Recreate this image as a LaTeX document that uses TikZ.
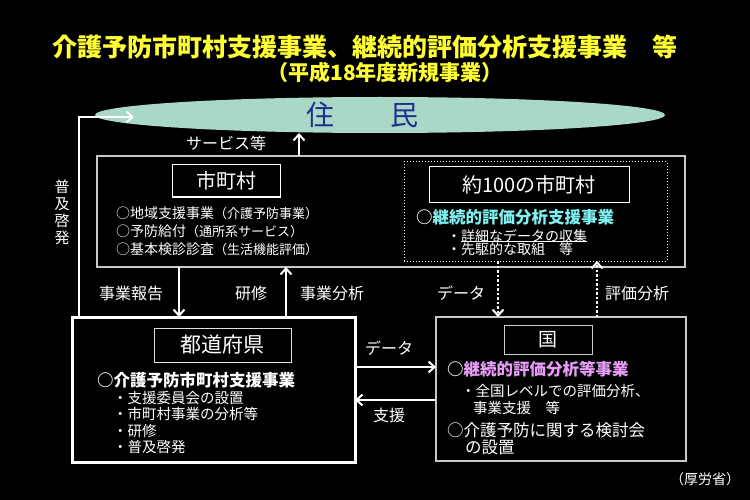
\documentclass[tikz,border=0pt]{standalone}
\usepackage{fontspec}
\setmainfont{Noto Sans CJK JP}
\usetikzlibrary{arrows.meta,shapes.geometric}
\definecolor{ttl}{HTML}{FFFF33}
\definecolor{mint}{HTML}{A9D9C6}
\definecolor{navy}{HTML}{1F2F8F}
\definecolor{cyantx}{HTML}{80F0F0}
\definecolor{pinktx}{HTML}{E89CF8}
\definecolor{gline}{HTML}{C8C8C8}
\newcommand{\fsz}[1]{\fontsize{#1}{#1}\selectfont}
\begin{document}
\begin{tikzpicture}[x=1pt,y=-1pt,
 txt/.style={text=white, inner sep=0pt, anchor=west},
 lbl/.style={text=white, inner sep=0pt, font=\fsz{16}},
 frame/.style={inner sep=0pt, outer sep=0pt, anchor=north west},
 titlebox/.style={draw=white!88!black, line width=1pt, text=white, inner sep=0pt, outer sep=0pt, anchor=north west},
 arr/.style={draw=white, line width=2pt, -{Straight Barb[length=6pt,width=11pt,line width=2pt]}},
 darr/.style={arr, line width=2.5pt, dash pattern=on 2.5pt off 2pt}
]
\useasboundingbox (0,0) rectangle (750,500);
\fill[black] (0,0) rectangle (750,500);

% titles
\node[text=ttl, inner sep=0pt, font=\bfseries\fsz{25}] (title) at (365,47) {介護予防市町村支援事業、継続的評価分析支援事業　等};
\node[text=ttl, inner sep=0pt, font=\bfseries\fsz{21}] (sub) at (385,73) {（平成18年度新規事業）};

% residents
\node[ellipse, fill=mint, minimum width=570, minimum height=36, inner sep=0pt, outer sep=0pt] (res) at (380,115) {};
\node[text=navy, inner sep=0pt, font=\fsz{28}] (restx) at (362,115) {住　　民};

% municipality outer box
\node[frame, draw=gline, line width=2pt, minimum width=588, minimum height=111] (muni) at (97,156) {};
\node[titlebox, draw=white, minimum width=108, minimum height=32, font=\fsz{20}] (mt) at (172,165) {市町村};
\node[txt, font=\fsz{14}] (m1) at (116,213) {○地域支援事業{\fsz{13}（介護予防事業）}};
\node[txt, font=\fsz{14}] (m2) at (116,231) {○予防給付{\fsz{13}（通所系サービス）}};
\node[txt, font=\fsz{14}] (m3) at (116,249) {○基本検診診査{\fsz{13}（生活機能評価）}};

% about 100 municipalities
\node[frame, draw=white, dotted, line width=1pt, minimum width=263, minimum height=99] (hund) at (404,162) {};
\node[titlebox, draw=white, minimum width=200, minimum height=35, font=\fsz{20}] (ht) at (429,167) {約100の市町村};
\node[txt, font=\bfseries\fsz{16.5}] (h1) at (416,217) {○\textcolor{cyantx}{継続的評価分析支援事業}};
\node[txt, font=\fsz{14}] (h2) at (447,236) {・詳細なデータの収集};
\node[txt, font=\fsz{14}] (h3) at (447,249) {・先駆的な取組　等};
\draw[white, line width=0.8pt] (461,241) -- (h2.south east |- 0,241);

% prefecture
\node[frame, draw=white, line width=3pt, minimum width=283, minimum height=145] (pref) at (72,317) {};
\node[titlebox, minimum width=137, minimum height=34, font=\fsz{21}] (pt) at (154,328) {都道府県};
\node[txt, font=\bfseries\fsz{16.5}] (p1) at (97,380) {○介護予防市町村支援事業};
\node[txt, font=\fsz{14.5}] (p2) at (113,398) {・支援委員会の設置};
\node[txt, font=\fsz{14.5}] (p3) at (113,414) {・市町村事業の分析等};
\node[txt, font=\fsz{14.5}] (p4) at (113,431) {・研修};
\node[txt, font=\fsz{14.5}] (p5) at (113,447) {・普及啓発};

% state
\node[frame, draw=gline, line width=1.5pt, minimum width=250, minimum height=144] (kuni) at (436,317) {};
\node[titlebox, draw=white!80!black, minimum width=88, minimum height=29, font=\fsz{19}] (kt) at (504,325) {国};
\node[txt, font=\bfseries\fsz{16.5}] (k1) at (447,369) {○\textcolor{pinktx}{継続的評価分析等事業}};
\node[txt, font=\fsz{14.5}] (k2) at (461,391) {・全国レベルでの評価分析、};
\node[txt, font=\fsz{14.5}] (k3) at (473,408) {事業支援　等};
\node[txt, font=\fsz{16.5}] (k4) at (447,430) {○介護予防に関する検討会};
\node[txt, font=\fsz{16.5}] (k5) at (465,448) {の設置};

% labels
\node[lbl] (lsv) at (226,143) {サービス等};
\node[lbl, font=\fontsize{15}{17}\selectfont, align=center] (lfk) at (62,212) {普\\及\\啓\\発};
\node[lbl] (lrep) at (131,293) {事業報告};
\node[lbl] (lken) at (251,293) {研修};
\node[lbl] (lbun) at (332,293) {事業分析};
\node[lbl] (ldat1) at (461,293) {データ};
\node[lbl] (lhyo) at (637,293) {評価分析};
\node[lbl] (ldat2) at (389,348) {データ};
\node[lbl] (lshi) at (389,415) {支援};
\node[text=white, inner sep=0pt, font=\fsz{14}] (lmhlw) at (705,479) {（厚労省）};

% connectors
\coordinate (fk) at (134,117);
\draw[arr] (79,0 |- pref.north) -- (79,117) -- (fk);
\draw[arr] (299,0 |- muni.north) -- (299,0 |- res.south);
\draw[arr] (179,0 |- muni.south) -- (179,0 |- pref.north);
\draw[arr] (286,0 |- pref.north) -- (286,0 |- muni.south);
\draw[darr] (498,0 |- hund.south) -- (498,0 |- kuni.north);
\draw[darr] (597,0 |- kuni.north) -- (597,0 |- hund.south);
\draw[arr] (pref.east |- 0,367) -- (kuni.west |- 0,367);
\draw[arr] (kuni.west |- 0,400) -- (pref.east |- 0,400);
\end{tikzpicture}
\end{document}
